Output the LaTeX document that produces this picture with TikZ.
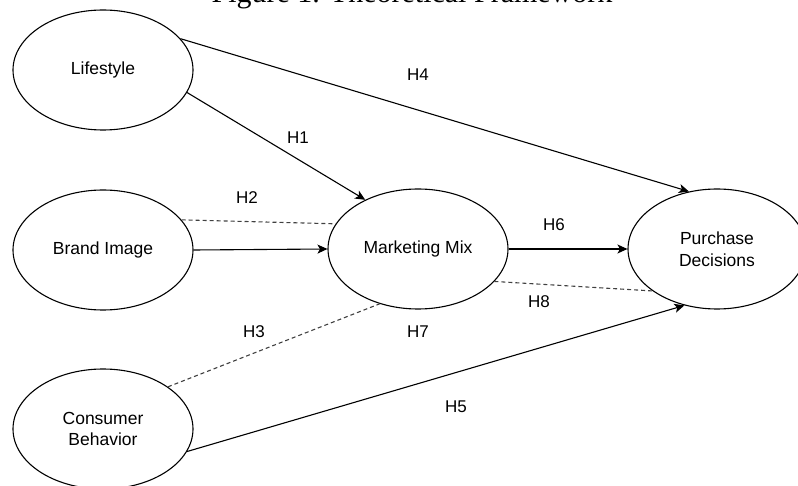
\documentclass[tikz,border=0pt]{standalone}
\usepackage{fontspec}
\setmainfont{Liberation Serif}
\setsansfont{Liberation Sans}
\usetikzlibrary{shapes.geometric,arrows.meta}

\tikzset{
  construct/.style={draw, ellipse, line width=1.1pt, minimum width=180pt, minimum height=120pt,
    inner sep=0pt, align=center, font=\sffamily\fontsize{17.5}{21.7}\selectfont},
  hyp/.style={font=\sffamily\fontsize{17}{20}\selectfont, inner sep=0pt},
  effect/.style={line width=1.1pt, -{Stealth[length=10pt,width=9pt,inset=2.5pt]}},
  link/.style={line width=1.1pt, dash pattern=on 4pt off 3pt, draw=black!75}
}

\begin{document}
\begin{tikzpicture}[x=1pt, y=-1pt]
\useasboundingbox (0,0) rectangle (798,486);
\clip (0,0) rectangle (798,486);

\node[anchor=base, font=\fontsize{30}{36}\selectfont] (title) at (412,3) {Figure 1. Theoretical Framework};

% constructs
\node[construct] (life) at (103,70) {Lifestyle};
\node[construct] (brand) at (103,250) {Brand Image};
\node[construct] (consumer) at (103,429) {Consumer\\Behavior};
\node[construct] (mix) at (418,249) {Marketing Mix};
\node[construct, minimum width=178pt] (purchase) at (717,249) {Purchase\\Decisions};

% paths
\draw[effect] (life.22) -- (purchase.116);
\draw[effect] (life.-15) -- (mix.137);
\draw[effect] (brand.east) -- (mix.west);
\draw[effect] (mix.east) -- (purchase.west);
\draw[effect] (consumer.-15) -- (purchase.240);
\draw[link] (brand.21) -- (mix.163);
\draw[link] (consumer.33) -- (mix.235);
\draw[link] (mix.-23) -- (purchase.213);

% hypotheses
\node[hyp] (h1) at (298,138) {H1};
\node[hyp] (h2) at (247,198) {H2};
\node[hyp] (h3) at (254,332) {H3};
\node[hyp] (h4) at (418,75) {H4};
\node[hyp] (h5) at (456,407) {H5};
\node[hyp] (h6) at (554,225) {H6};
\node[hyp] (h7) at (418,332) {H7};
\node[hyp] (h8) at (539,302) {H8};
\end{tikzpicture}
\end{document}
